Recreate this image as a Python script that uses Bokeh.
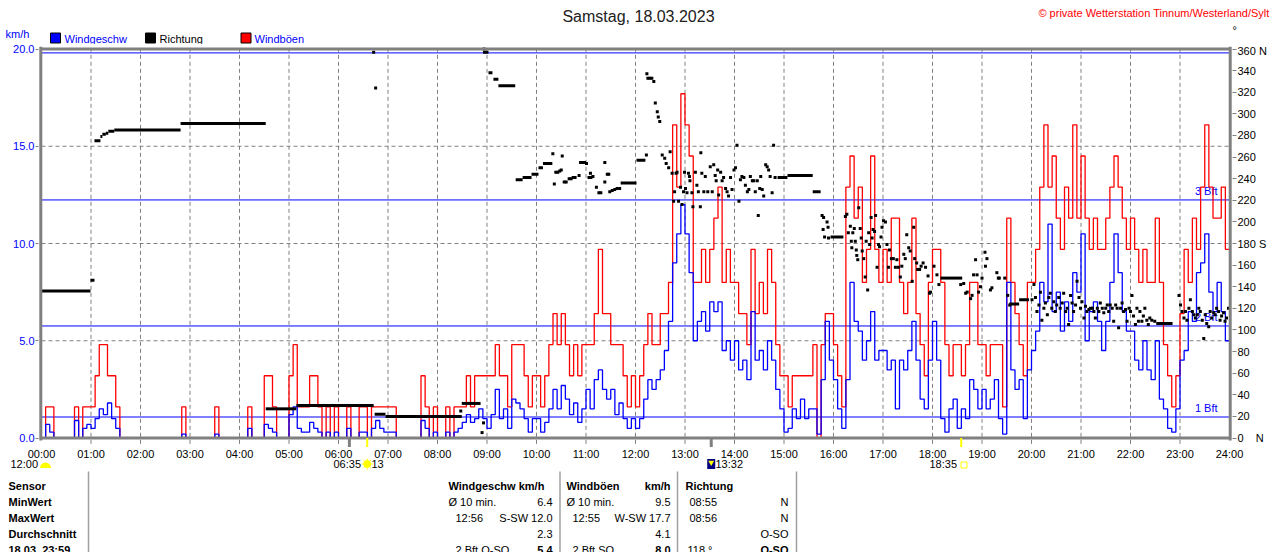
import numpy as np
from bokeh.plotting import figure
from bokeh.layouts import column
from bokeh.models import Range1d, LinearAxis, FixedTicker, PrintfTickFormatter
from bokeh.core.properties import value
from bokeh.embed import file_html
from bokeh.resources import INLINE

FONT = "Liberation Sans"

# ---------------- data ----------------
hour_ticks = [0, 1, 2, 3, 4, 5, 6, 7, 8, 9, 10, 11, 12, 13, 14, 15, 16, 17, 18, 19, 20, 21, 22, 23, 24]
hour_labels = ["00:00", "01:00", "02:00", "03:00", "04:00", "05:00", "06:00", "07:00", "08:00",
               "09:00", "10:00", "11:00", "12:00", "13:00", "14:00", "15:00", "16:00", "17:00",
               "18:00", "19:00", "20:00", "21:00", "22:00", "23:00", "24:00"]
kmh_ticks = [0, 5, 10, 15, 20]
dir_ticks = [0, 20, 40, 60, 80, 100, 120, 140, 160, 180, 200, 220, 240, 260, 280, 300, 320, 340, 360]
dir_label_overrides = {360: "360 N", 180: "180 S", 0: "0\u00a0\u00a0\u00a0\u00a0N"}
bft_kmh = [1.08, 5.76, 12.24, 19.8]
bft_labels = ["1 Bft", "2 Bft", "3 Bft", ""]

slot_minutes = 5
gust_kmh = [
    0, 1.6, 1.6, 0, 0, 0, 0, 0, 1.6, 0, 1.6, 1.6,                         # 00
    1.6, 3.2, 4.8, 4.8, 3.2, 3.2, 1.6, 0, 0, 0, 0, 0,                     # 01
    0, 0, 0, 0, 0, 0, 0, 0, 0, 0, 1.6, 0,                                 # 02
    0, 0, 0, 0, 0, 0, 1.6, 0, 0, 0, 0, 0,                                 # 03
    0, 0, 1.6, 0, 0, 0, 3.2, 3.2, 1.6, 0, 0, 0,                           # 04
    3.2, 4.8, 1.6, 1.6, 1.6, 3.2, 3.2, 1.6, 0, 1.6, 0, 1.6,               # 05
    0, 0, 1.6, 0, 0, 1.6, 1.6, 0, 1.6, 1.6, 1.6, 1.6,                     # 06
    1.6, 1.6, 0, 0, 0, 0, 0, 0, 3.2, 1.6, 0, 1.6,                         # 07
    0, 0, 1.6, 0, 1.6, 1.6, 1.6, 3.2, 1.6, 3.2, 3.2, 3.2,                 # 08
    3.2, 3.2, 4.8, 3.2, 3.2, 1.6, 4.8, 4.8, 4.8, 3.2, 1.6, 3.2,           # 09
    3.2, 1.6, 3.2, 4.8, 6.4, 4.8, 6.4, 4.8, 3.2, 4.8, 3.2, 4.8,           # 10
    4.8, 4.8, 6.4, 9.7, 6.4, 6.4, 4.8, 4.8, 4.8, 3.2, 1.6, 3.2,           # 11
    1.6, 3.2, 4.8, 6.4, 4.8, 4.8, 6.4, 6.4, 8.0, 16.1, 12.9, 17.7,        # 12
    16.1, 14.5, 8.0, 8.0, 9.7, 8.0, 9.7, 11.3, 12.9, 8.0, 9.7, 8.0,       # 13
    8.0, 6.4, 6.4, 4.8, 9.7, 6.4, 8.0, 6.4, 9.7, 8.0, 4.8, 3.2,           # 14
    3.2, 1.6, 3.2, 3.2, 3.2, 3.2, 3.2, 4.8, 0, 4.8, 6.4, 6.4,             # 15
    4.8, 3.2, 1.6, 12.9, 14.5, 11.3, 12.9, 8.0, 9.7, 14.5, 9.7, 8.0,      # 16
    9.7, 8.0, 11.3, 11.3, 8.0, 6.4, 8.0, 11.3, 6.4, 4.8, 3.2, 8.0,        # 17
    9.7, 9.7, 8.0, 4.8, 3.2, 4.8, 4.8, 3.2, 4.8, 8.0, 8.0, 4.8,           # 18
    4.8, 3.2, 4.8, 4.8, 4.8, 1.6, 11.3, 8.0, 6.4, 4.8, 3.2, 8.0,          # 19
    8.0, 9.7, 12.9, 16.1, 12.9, 14.5, 11.3, 9.7, 12.9, 11.3, 16.1, 11.3,  # 20
    14.5, 11.3, 9.7, 11.3, 9.7, 9.7, 11.3, 12.9, 14.5, 12.9, 11.3, 9.7,   # 21
    11.3, 9.7, 8.0, 9.7, 8.0, 8.0, 11.3, 8.0, 4.8, 3.2, 1.6, 3.2,         # 22
    6.4, 9.7, 8.0, 11.3, 9.7, 12.9, 16.1, 12.9, 11.3, 11.3, 12.9, 9.7,    # 23
]
speed_kmh = [
    0, 0.7, 0.3, 0, 0, 0, 0, 0, 0.9, 0, 0.5, 0.7,                         # 00
    0.5, 1.0, 1.5, 1.2, 1.8, 1.0, 0.5, 0, 0, 0, 0, 0,                     # 01
    0, 0, 0, 0, 0, 0, 0, 0, 0, 0, 0.2, 0,                                 # 02
    0, 0, 0, 0, 0, 0, 0.2, 0, 0, 0, 0, 0,                                 # 03
    0, 0, 0.5, 0, 0, 0, 0.7, 0.5, 0.3, 0, 0, 0,                           # 04
    1.2, 1.6, 0.5, 0.3, 0.3, 0.8, 0.5, 0.3, 0, 0.3, 0, 0.3,               # 05
    0, 0, 0.5, 0, 0, 0.3, 0.3, 0, 0.5, 0.9, 0.5, 0.3,                     # 06
    0.3, 0.3, 0, 0, 0, 0, 0, 0, 0.9, 0.5, 0, 0.3,                         # 07
    0, 0, 0.3, 0, 0.3, 0.5, 0.8, 1.2, 0.8, 1.0, 1.5, 1.0,                 # 08
    0.5, 1.2, 2.5, 1.0, 1.5, 0.5, 2.0, 1.8, 1.5, 1.0, 0.3, 1.0,           # 09
    1.0, 0.3, 0.8, 1.5, 2.5, 1.5, 2.7, 2.0, 1.2, 1.8, 0.8, 1.5,           # 10
    2.5, 1.5, 3.0, 3.5, 2.5, 2.0, 2.5, 1.2, 1.8, 1.0, 0.5, 1.0,           # 11
    0.5, 1.0, 2.0, 3.0, 2.5, 3.0, 3.5, 4.5, 6.0, 9.0, 10.5, 12.0,         # 12
    10.5, 8.5, 5.0, 6.0, 6.5, 5.5, 7.0, 6.5, 7.0, 4.5, 5.0, 4.0,          # 13
    5.0, 3.5, 4.0, 3.0, 6.5, 4.0, 4.5, 3.5, 5.0, 4.0, 2.5, 1.5,           # 14
    0.3, 0.5, 1.5, 1.0, 2.0, 1.0, 1.5, 1.5, 0.2, 3.0, 6.0, 4.0,           # 15
    3.0, 1.5, 0.5, 3.0, 8.0, 6.0, 5.5, 4.0, 5.0, 6.5, 4.0, 4.5,           # 16
    4.5, 3.5, 4.0, 1.5, 4.0, 3.5, 4.5, 6.0, 4.0, 2.0, 1.5, 4.0,           # 17
    6.0, 4.0, 1.0, 0.3, 1.5, 2.0, 0.5, 1.5, 1.0, 3.0, 2.5, 1.5,           # 18
    2.5, 1.5, 2.0, 3.0, 1.0, 0.2, 8.0, 3.5, 2.5, 3.0, 1.0, 3.5,           # 19
    4.5, 5.5, 8.0, 7.0, 11.0, 6.5, 7.5, 5.5, 7.0, 6.0, 8.5, 7.5,          # 20
    10.5, 5.0, 6.5, 7.0, 6.0, 4.5, 6.0, 8.0, 10.5, 8.5, 6.5, 5.5,         # 21
    5.5, 4.0, 3.5, 5.0, 3.5, 3.0, 5.0, 2.0, 1.5, 0.5, 0.3, 1.5,           # 22
    4.0, 4.5, 6.5, 6.0, 8.5, 9.0, 10.5, 7.5, 6.5, 8.0, 6.5, 5.0,          # 23
]

# wind direction: periods of constant direction (hours, degrees)
dir_seg_start = [0.0, 0.99, 1.07, 1.19, 1.23, 1.30, 1.35, 1.47, 2.81, 4.53, 5.15, 6.73, 6.95, 8.49,
                 8.92, 9.03, 9.13, 9.23, 9.58, 9.72, 9.90, 10.04, 10.13, 11.70, 12.02,
                 14.87, 15.07, 15.58, 15.94, 18.16, 19.55, 19.75, 22.52]
dir_seg_end = [0.99, 1.07, 1.19, 1.23, 1.30, 1.35, 1.47, 2.81, 4.53, 5.15, 6.71, 6.95, 8.49, 8.87,
               9.03, 9.11, 9.23, 9.57, 9.72, 9.90, 10.04, 10.13, 10.32, 12.02, 12.20,
               15.07, 15.58, 15.74, 16.20, 18.60, 19.75, 19.95, 22.85]
dir_seg_deg = [136, 146, 275, 279, 281, 282, 284, 285, 291, 27, 30, 22, 20, 32,
               357, 338, 332, 326, 239, 241, 244, 250, 254, 236, 257,
               241, 243, 228, 186, 148, 124, 128, 106]

# wind direction: single readings (hours, degrees)
dir_dot_hour = (
    [6.71, 6.75, 8.47, 8.90, 8.93, 8.94]
    + [10.33, 10.36, 10.39, 10.43, 10.47, 10.50, 10.52, 10.56, 10.60, 10.66, 10.70, 10.74, 10.78, 10.86,
       10.89, 10.93, 10.97, 11.01, 11.06, 11.09, 11.10, 11.14, 11.21, 11.26, 11.30, 11.38, 11.38, 11.43,
       11.46, 11.48, 11.53, 11.58, 11.63, 11.68]
    + [12.22, 12.23, 12.25, 12.29, 12.33, 12.37, 12.40, 12.44, 12.46, 12.49, 12.54, 12.59, 12.62, 12.67,
       12.70, 12.74, 12.77, 12.79, 12.82, 12.84, 12.87, 12.91, 12.94, 12.97, 12.99]
    + [13.01, 13.04, 13.07, 13.09, 13.10, 13.14, 13.16, 13.21, 13.24, 13.27, 13.31, 13.32, 13.34, 13.38,
       13.41, 13.46, 13.51, 13.55, 13.58, 13.61, 13.63, 13.66, 13.68, 13.72, 13.75, 13.78, 13.82, 13.85,
       13.88, 13.92, 13.95, 13.99]
    + [14.02, 14.05, 14.09, 14.12, 14.15, 14.19, 14.22, 14.26, 14.29, 14.32, 14.36, 14.39, 14.42, 14.46,
       14.48, 14.51, 14.53, 14.56, 14.59, 14.63, 14.66, 14.69, 14.72, 14.76, 14.79, 14.82]
    + [15.77, 15.79, 15.80, 15.82, 15.87, 15.89, 15.90]
    + [16.24, 16.27, 16.30, 16.34, 16.36, 16.37, 16.39, 16.42, 16.44, 16.46, 16.47, 16.49, 16.51, 16.54,
       16.56, 16.58, 16.61, 16.64, 16.66, 16.69, 16.71, 16.73, 16.76, 16.78, 16.80, 16.83, 16.85, 16.88,
       16.91, 16.93, 16.96, 16.98]
    + [17.01, 17.05, 17.08, 17.11, 17.13, 17.17, 17.21, 17.25, 17.28, 17.31, 17.35, 17.38, 17.42, 17.45,
       17.48, 17.52, 17.55, 17.59, 17.62, 17.64, 17.68, 17.70, 17.74, 17.77, 17.81, 17.86, 17.91, 17.94]
    + [17.96, 18.03, 18.09, 18.13, 18.57, 18.63, 18.67, 18.70, 18.77, 18.80, 18.83, 18.87, 18.90, 18.93, 18.97]
    + [19.00, 19.06, 19.07, 19.10, 19.17, 19.20, 19.30, 19.33, 19.35, 19.46, 19.52, 19.56]
    + [20.01, 20.05, 20.08, 20.11, 20.15, 20.18, 20.21, 20.25, 20.28, 20.32, 20.35, 20.38, 20.41, 20.45,
       20.48, 20.51, 20.55, 20.58, 20.62, 20.65, 20.69, 20.72, 20.75, 20.79, 20.82, 20.85, 20.89, 20.92,
       20.96, 20.99]
    + [21.02, 21.06, 21.09, 21.12, 21.16, 21.19, 21.23, 21.26, 21.29, 21.33, 21.36, 21.39, 21.43, 21.46,
       21.50, 21.53, 21.56, 21.59, 21.63, 21.66, 21.70, 21.73, 21.76, 21.80, 21.83, 21.86, 21.90, 21.93, 21.97]
    + [22.00, 22.03, 22.06, 22.10, 22.13, 22.16, 22.19, 22.23, 22.26, 22.29, 22.33, 22.36, 22.39, 22.43, 22.49]
    + [22.98, 23.01, 23.04, 23.08, 23.11, 23.14, 23.18, 23.21, 23.25, 23.28, 23.31, 23.35, 23.38, 23.41,
       23.45, 23.48, 23.51, 23.54, 23.58, 23.61, 23.64, 23.68, 23.71, 23.74, 23.78, 23.81, 23.84, 23.88,
       23.91, 23.94, 23.98]
)
dir_dot_deg = (
    [357, 324, 25, 5, 14, 360]
    + [263, 235, 246, 246, 247, 248, 261, 237, 237, 240, 240, 241, 241, 243,
       255, 255, 255, 254, 241, 245, 241, 242, 232, 227, 227, 255, 237, 244,
       244, 228, 229, 230, 231, 231]
    + [262, 337, 333, 333, 333, 330, 310, 302, 297, 293, 262, 259, 254, 250,
       265, 245, 219, 228, 245, 246, 219, 232, 216, 228, 246]
    + [231, 227, 245, 242, 238, 227, 214, 246, 234, 228, 214, 264, 245, 228,
       242, 228, 251, 228, 253, 243, 238, 248, 225, 246, 238, 241, 231, 228,
       224, 241, 230, 248]
    + [250, 271, 219, 239, 242, 241, 234, 228, 230, 242, 238, 238, 228, 238,
       206, 231, 242, 230, 224, 253, 251, 248, 242, 227, 271, 241]
    + [206, 193, 204, 186, 200, 195, 185]
    + [205, 207, 190, 196, 182, 176, 190, 194, 182, 174, 169, 165, 213, 194,
       185, 173, 166, 149, 182, 137, 190, 179, 204, 185, 193, 191, 206, 158,
       179, 177, 186, 195]
    + [201, 200, 179, 158, 174, 166, 166, 158, 165, 158, 149, 159, 170, 166,
       188, 176, 173, 145, 195, 166, 162, 156, 156, 159, 162, 158, 150, 134]
    + [135, 159, 151, 142, 142, 143, 134, 135, 129, 132, 151, 165, 151, 135, 140]
    + [148, 172, 159, 166, 137, 139, 153, 148, 148, 148, 132, 123]
    + [128, 142, 130, 117, 123, 135, 109, 120, 125, 114, 130, 134, 120, 126,
       117, 123, 130, 120, 125, 134, 117, 120, 105, 132, 125, 117, 123, 145,
       130, 120]
    + [126, 111, 122, 117, 119, 120, 120, 117, 111, 120, 117, 125, 120, 116,
       120, 123, 117, 123, 120, 108, 123, 120, 102, 120, 125, 117, 119, 108, 120]
    + [117, 132, 113, 105, 120, 108, 117, 108, 113, 120, 109, 105, 111, 109, 108]
    + [132, 123, 117, 111, 117, 109, 120, 128, 117, 114, 111, 114, 120, 117,
       109, 92, 114, 106, 103, 117, 111, 116, 114, 120, 117, 109, 113, 116,
       108, 111, 120]
)

# sun events (hours): dawn/noon marks and sunrise/sunset marks
gray_event_hours = [6.22, 13.53]
sun_event_hours = [6.58, 18.58]

# summary table
tab_row_labels = ["Sensor", "MinWert", "MaxWert", "Durchschnitt", "18.03. 23:59"]
ws_head = "Windgeschw km/h"
wg_head = "Windböen"
dir_head = "Richtung"
ws_left = ["Ø 10 min.", "12:56", "", "2 Bft O-SO"]
ws_right = ["6.4", "S-SW 12.0", "2.3", "5.4"]
wg_left = ["Ø 10 min.", "12:55", "", "2 Bft SO"]
wg_right = ["9.5", "W-SW 17.7", "4.1", "8.0"]
dir_left = ["08:55", "08:56", "", "118 °"]
dir_right = ["N", "N", "O-SO", "O-SO"]

# ---------------- styling helpers ----------------
BLUE = "#0000ff"
RED = "#ff0000"
GRAY = "#808080"
YEL = "#ffff00"
PX_PER_H = 49.5


def X(px):
    """page pixel -> hour on the time scale (layout helper)"""
    return (px - 41.0) / PX_PER_H


def txt(p, x, y, s, color="#000000", align="left", size="11px", bold=False):
    p.text(x=[x], y=[y], text=[s], text_font=value(FONT), text_font_size=size,
           text_color=color, text_align=align, text_baseline="middle",
           text_font_style="bold" if bold else "normal")


def blank(p):
    p.outline_line_color = None
    p.background_fill_color = "white"
    p.border_fill_color = "white"


W = 1280
common = dict(output_backend="svg", toolbar_location=None, frame_align=False)

# ---------------- top strip (title + legend) ----------------
C = figure(width=W, height=44, x_range=Range1d(0, 1280), y_range=Range1d(44, 0),
           x_axis_type=None, y_axis_type=None,
           min_border=0, min_border_left=0, min_border_right=0, min_border_top=0, min_border_bottom=0,
           **common)
blank(C)
txt(C, 638, 15.5, "Samstag, 18.03.2023", color="#202020", align="center", size="16px")
txt(C, 1269, 12, "© private Wetterstation Tinnum/Westerland/Sylt", color=RED, align="right")
txt(C, 5, 33, "km/h", color=BLUE)
txt(C, 1232, 29, "°")
C.rect(x=[55, 150, 245.5], y=[37.5, 37.5, 37.5], width=10, height=10,
       fill_color=[BLUE, "#000000", RED], line_color="#000000", line_width=1)
txt(C, 64, 38, "Windgeschw", color=BLUE)
txt(C, 159, 38, "Richtung", color="#000000")
txt(C, 254, 38, "Windböen", color=BLUE)

# ---------------- main chart ----------------
Y0, Y1 = -0.488, 20.129
A = figure(width=W, height=403, x_range=Range1d(X(38), X(1232)), y_range=Range1d(Y0, Y1),
           x_axis_type=None, y_axis_type=None,
           min_border_left=38, min_border_right=48, min_border_top=2, min_border_bottom=0,
           **common)
blank(A)
A.extra_y_ranges = {"dir": Range1d(Y0 * 18, Y1 * 18)}

ly = LinearAxis(ticker=FixedTicker(ticks=kmh_ticks), formatter=PrintfTickFormatter(format="%.1f"))
ry = LinearAxis(y_range_name="dir", ticker=FixedTicker(ticks=dir_ticks),
                major_label_overrides=dir_label_overrides)
for ax, col in ((ly, BLUE), (ry, "#000000")):
    ax.axis_line_color = None
    ax.major_tick_line_color = GRAY
    ax.major_tick_in = 0
    ax.minor_tick_line_color = None
    ax.major_label_text_font = FONT
    ax.major_label_text_font_size = "11px"
    ax.major_label_text_color = col
ly.major_tick_out = 3
ly.major_label_standoff = 1
ry.major_tick_out = 4
ry.major_label_standoff = 1
A.add_layout(ly, "left")
A.add_layout(ry, "right")

# dashed grid (vertical lines continue a little below the axis)
inner_hours = hour_ticks[1:-1]
A.segment(x0=inner_hours, y0=[-0.3] * len(inner_hours), x1=inner_hours, y1=[Y1] * len(inner_hours),
          line_color=GRAY, line_width=1, line_dash="4 3")
A.segment(x0=[0, 0, 0], y0=kmh_ticks[1:4], x1=[24, 24, 24], y1=kmh_ticks[1:4],
          line_color=GRAY, line_width=1, line_dash="4 3")

# Beaufort limits
A.segment(x0=[0] * len(bft_kmh), y0=bft_kmh, x1=[24] * len(bft_kmh), y1=bft_kmh,
          line_color=BLUE, line_width=1)
A.text(x=[X(1217)] * 3, y=[b + 0.44 for b in bft_kmh[:3]], text=bft_labels[:3],
       text_font=value(FONT), text_font_size="11px", text_color=BLUE,
       text_align="right", text_baseline="middle")

# wind series (5-minute values drawn as steps)
t = np.arange(len(gust_kmh)) * slot_minutes / 60.0
t_ext = np.append(t, 24.0)
g_ext = np.append(gust_kmh, gust_kmh[-1])
s_ext = np.append(speed_kmh, speed_kmh[-1])
A.step(x=t_ext, y=g_ext, mode="after", line_color=RED, line_width=1.3)
A.step(x=t_ext, y=s_ext, mode="after", line_color=BLUE, line_width=1.3)

# direction
A.segment(x0=dir_seg_start, y0=dir_seg_deg, x1=dir_seg_end, y1=dir_seg_deg,
          y_range_name="dir", line_color="#000000", line_width=3)
n = min(len(dir_dot_hour), len(dir_dot_deg))
A.scatter(x=dir_dot_hour[:n], y=dir_dot_deg[:n], y_range_name="dir", marker="square",
          size=3, fill_color="#000000", line_color=None)

# frame
A.segment(x0=[X(40.3), X(1229.7), X(40.3), X(40.3)], y0=[-0.13, -0.13, 0, 20.0],
          x1=[X(40.3), X(1229.7), X(1229.7), X(1229.7)], y1=[Y1, Y1, 0, 20.0],
          line_color=GRAY, line_width=3)
# event marks below the axis
A.segment(x0=gray_event_hours, y0=[0, 0], x1=gray_event_hours, y1=[Y0, Y0],
          line_color=GRAY, line_width=3)
A.segment(x0=sun_event_hours, y0=[0, 0], x1=sun_event_hours, y1=[Y0, Y0],
          line_color=YEL, line_width=2)

# ---------------- bottom (time labels, sun info, table) ----------------
B = figure(width=W, height=105, x_range=Range1d(X(0), X(1280)), y_range=Range1d(552, 447),
           x_axis_type=None, y_axis_type=None,
           min_border=0, min_border_left=0, min_border_right=0, min_border_top=0, min_border_bottom=0,
           **common)
blank(B)
B.text(x=hour_ticks, y=[453.5] * len(hour_ticks), text=hour_labels, text_font=value(FONT),
       text_font_size="11px", text_color="#000000", text_align="center", text_baseline="middle")

# second row: moon / sunrise / noon / sunset
txt(B, X(10), 463.5, "12:00")
B.wedge(x=[X(45)], y=[467.5], radius=5.5, radius_units="screen", start_angle=0, end_angle=np.pi,
        fill_color=YEL, line_color=None)
txt(B, X(333), 463.5, "06:35")
B.scatter(x=[sun_event_hours[0]], y=[463.5], marker="asterisk", size=11, line_color=YEL, line_width=1)
B.scatter(x=[sun_event_hours[0]], y=[463.5], marker="circle", size=7, fill_color=YEL, line_color=YEL)
txt(B, X(371), 463.5, "13")
B.rect(x=[gray_event_hours[1]], y=[463.5], width=8, height=10, width_units="screen",
       height_units="screen", fill_color="#000080", line_color=None)
B.scatter(x=[gray_event_hours[1]], y=[462], marker="inverted_triangle", size=6,
          fill_color=YEL, line_color=None)
txt(B, X(715), 463.5, "13:32")
txt(B, X(929), 463.5, "18:35")
B.scatter(x=[X(963.5)], y=[464.5], marker="square", size=6, fill_color=None, line_color=YEL,
          line_width=1)

# table
B.segment(x0=[X(88), X(559.5), X(677), X(796)], y0=[471] * 4,
          x1=[X(88), X(559.5), X(677), X(796)], y1=[552] * 4, line_color="#a0a0a0", line_width=1.5)
row_y = [485, 501, 517, 533, 549]
for lbl, yy in zip(tab_row_labels, row_y):
    txt(B, X(8), yy, lbl, bold=True)
txt(B, X(448), row_y[0], ws_head, bold=True)
txt(B, X(566), row_y[0], wg_head, bold=True)
txt(B, X(670), row_y[0], "km/h", align="right", bold=True)
txt(B, X(685), row_y[0], dir_head, bold=True)
for i in range(4):
    yy = row_y[i + 1]
    last = i == 3
    if ws_left[i]:
        txt(B, X(448 if i == 0 else 455), yy, ws_left[i])
    txt(B, X(552), yy, ws_right[i], align="right", bold=last)
    if wg_left[i]:
        txt(B, X(566 if i == 0 else 572), yy, wg_left[i])
    txt(B, X(670), yy, wg_right[i], align="right", bold=last)
    if dir_left[i]:
        txt(B, X(689 if i < 3 else 687), yy, dir_left[i])
    txt(B, X(788), yy, dir_right[i], align="right", bold=last)

layout = column(C, A, B, spacing=0)
with open("out.html", "w", encoding="utf-8") as f:
    f.write(file_html(layout, INLINE))
